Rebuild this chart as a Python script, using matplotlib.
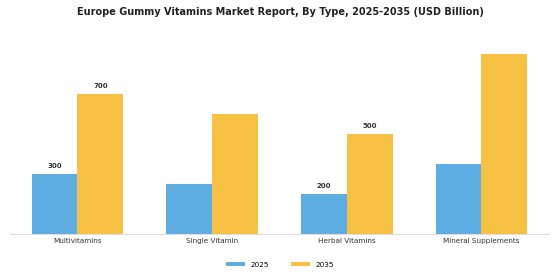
import matplotlib.pyplot as plt
import numpy as np

categories = ["Multivitamins", "Single Vitamin", "Herbal Vitamins", "Mineral Supplements"]
v2025 = [300, 250, 200, 350]
v2035 = [700, 600, 500, 900]
# labels shown only on some bars, as in the source
lab2025 = ["300", "", "200", ""]
lab2035 = ["700", "", "500", ""]

c2025 = "#5DADE2"
c2035 = "#F7C244"

fig = plt.figure(figsize=(5.6, 2.8), dpi=100)
ax = fig.add_axes([0.018, 0.164, 0.962, 0.715])

x = np.arange(len(categories))
w = 0.34
b1 = ax.bar(x - w / 2, v2025, w, color=c2025, label="2025")
b2 = ax.bar(x + w / 2, v2035, w, color=c2035, label="2035")

for bars, labs in ((b1, lab2025), (b2, lab2035)):
    for r, t in zip(bars, labs):
        if t:
            ax.text(r.get_x() + r.get_width() / 2, r.get_height() + 25, t,
                    ha="center", va="bottom", fontsize=5, fontweight="bold", color="#333333")

ax.set_xlim(-0.5, 3.5)
ax.set_ylim(0, 1000)
ax.set_xticks(x)
ax.set_xticklabels(categories, fontsize=5.2, color="#333333")
ax.tick_params(axis="x", length=0, pad=3)
ax.set_yticks([])
for s in ("top", "right", "left"):
    ax.spines[s].set_visible(False)
ax.spines["bottom"].set_color("#dddddd")

fig.suptitle("Europe Gummy Vitamins Market Report, By Type, 2025-2035 (USD Billion)",
             fontsize=7, fontweight="bold", y=0.975, color="#222222")
fig.legend(loc="lower center", bbox_to_anchor=(0.5, 0.02), ncol=2, frameon=False,
           fontsize=5.2, handlelength=2.6, handleheight=0.5, columnspacing=3.0)

fig.savefig("out.png", dpi=100, facecolor="white")
